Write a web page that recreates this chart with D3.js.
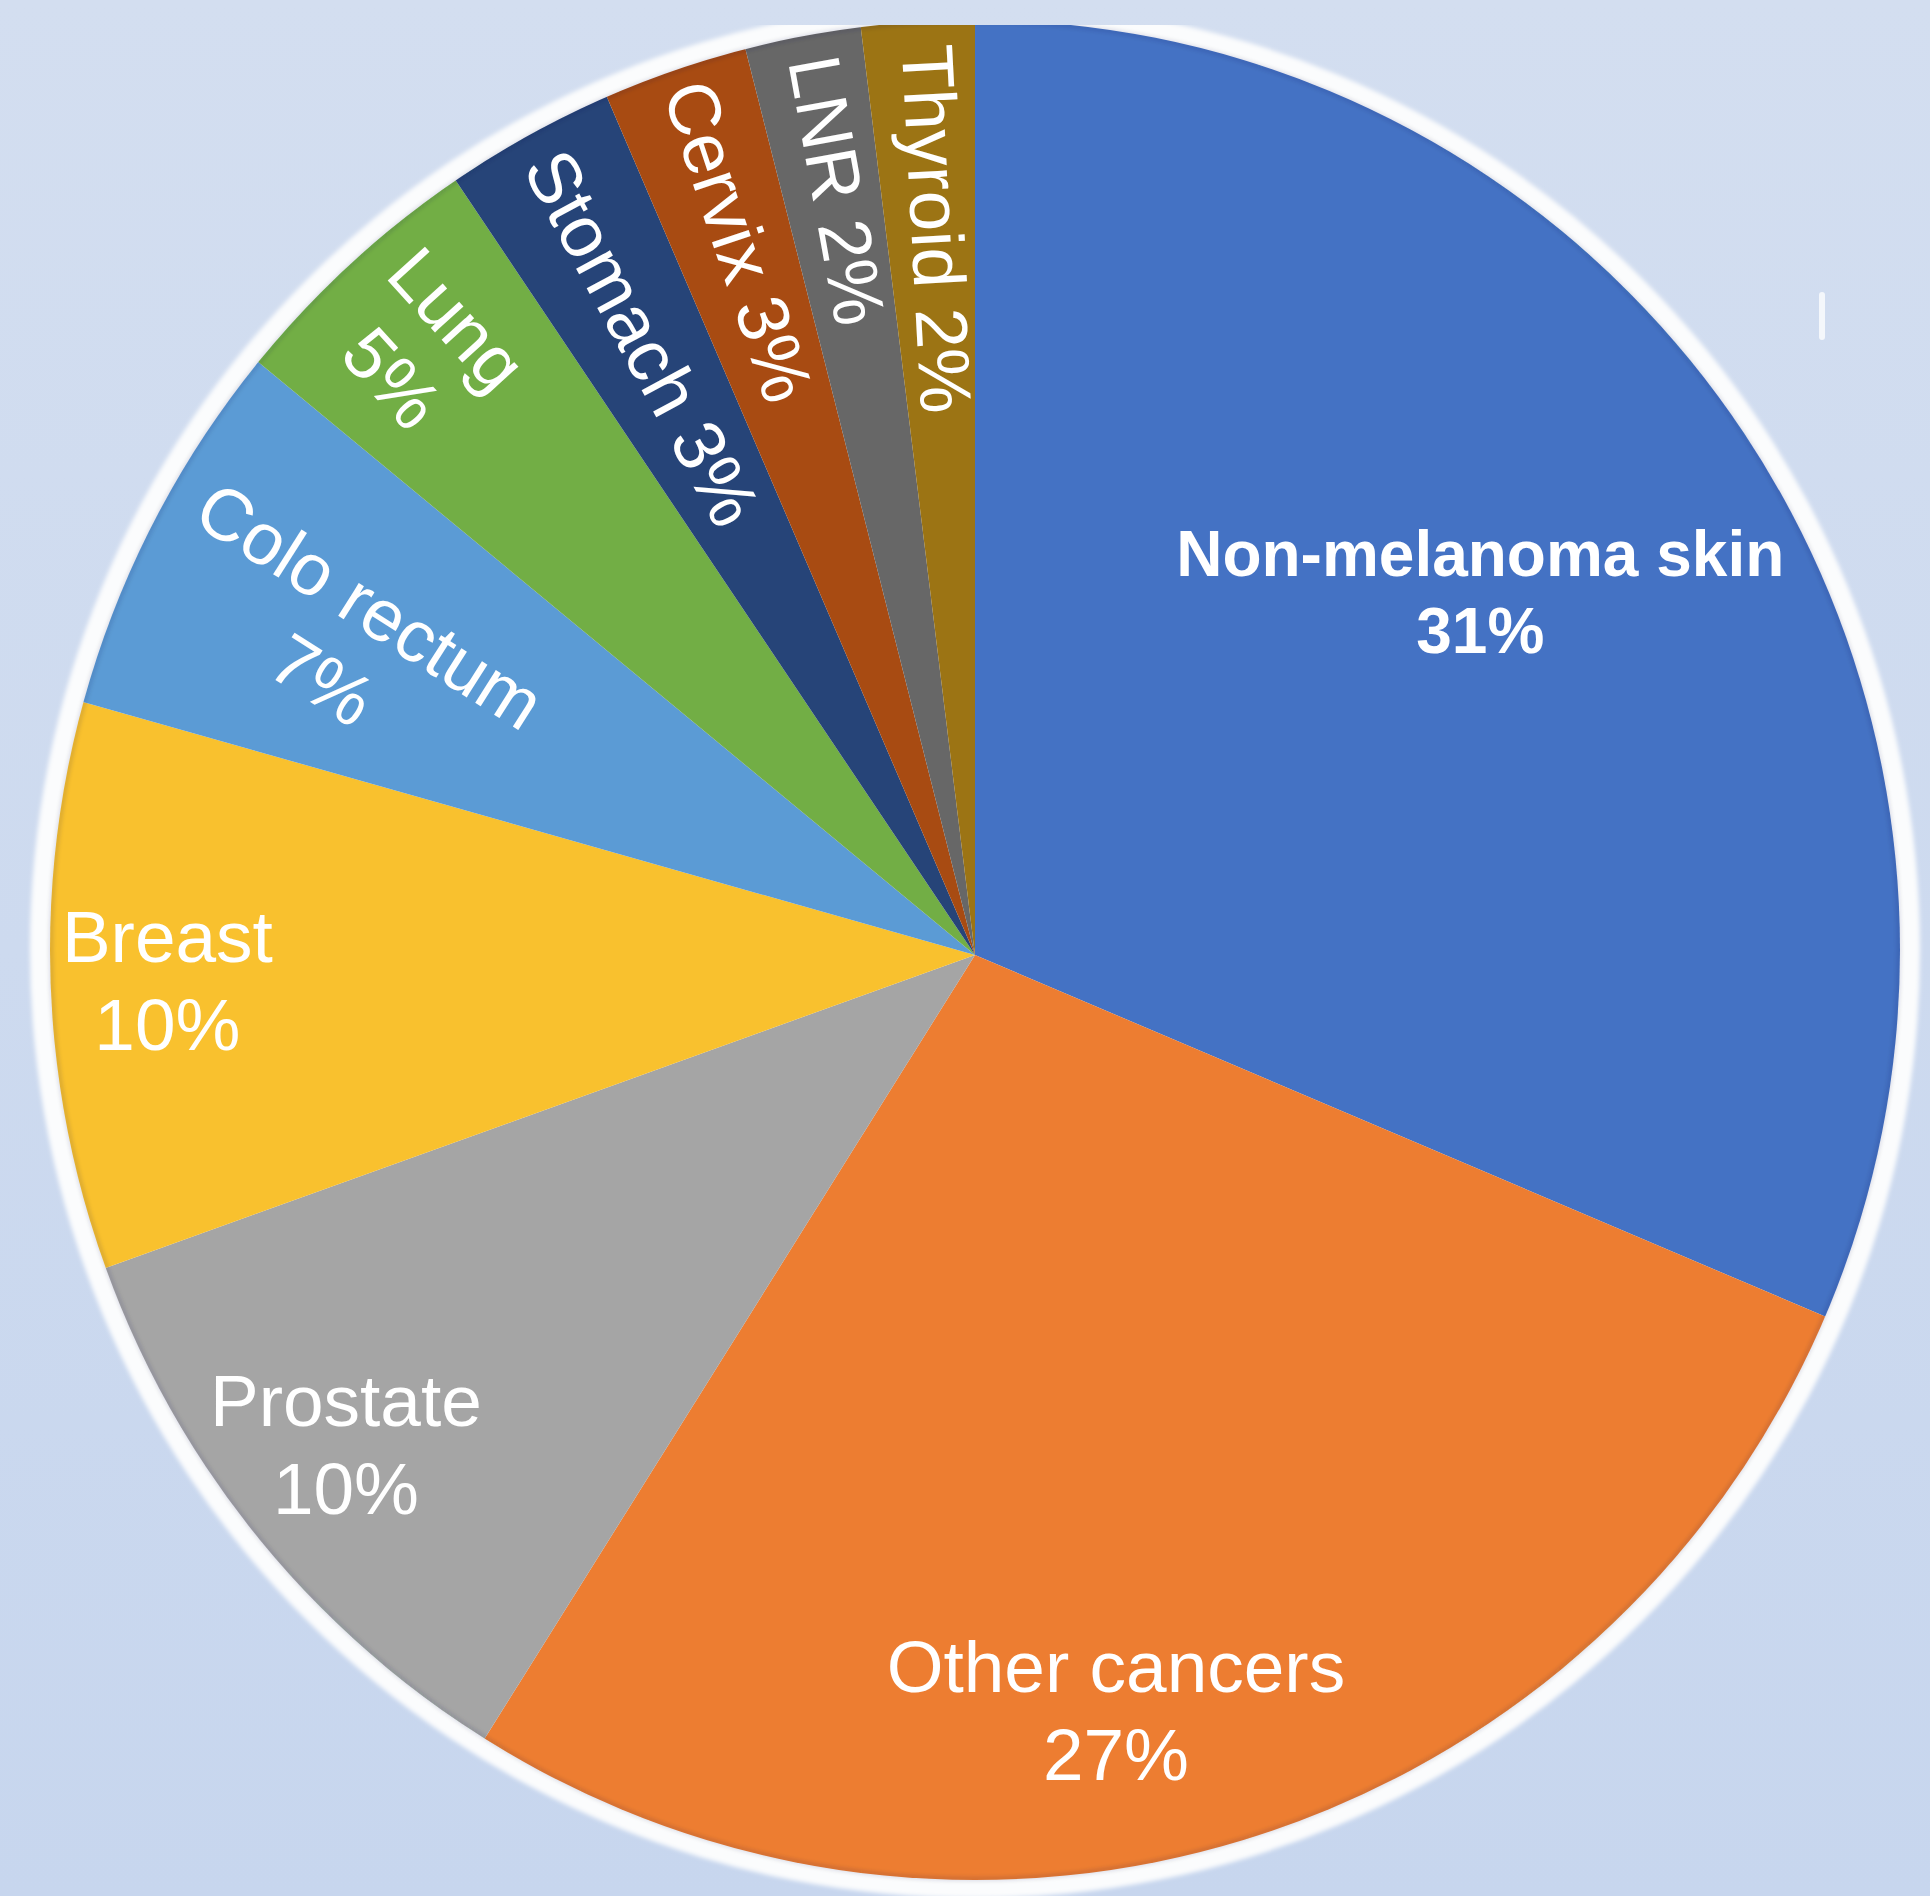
<!DOCTYPE html>
<html>
<head>
<meta charset="utf-8">
<script src="https://cdn.jsdelivr.net/npm/d3@7"></script>
<style>
  html, body { margin: 0; padding: 0; background: #cfdcef; }
  svg { display: block; }
</style>
</head>
<body>
<div id="chart"></div>
<script>
// Data, clockwise from 12 o'clock
const categories = ["Non-melanoma skin", "Other cancers", "Prostate", "Breast", "Colo rectum", "Lung", "Stomach", "Cervix", "LNR", "Thyroid"];
const shares = [31.4, 27.5, 10.6, 9.9, 6.6, 4.6, 2.95, 2.5, 2.0, 1.95];
const pctLabels = ["31%", "27%", "10%", "10%", "7%", "5%", "3%", "3%", "2%", "2%"];
const colors = ["#4472c4", "#ed7d31", "#a5a5a5", "#f9c12e", "#5b9bd5", "#72ae45", "#264478", "#a84b12", "#676767", "#9c7414"];

// Label placement: distance from centre, angle nudge (deg), extra turn for radial text
const labelLayout = [
  {r: 622, nudge: -2.2, radial: false, bold: true},
  {r: 769, nudge: 6.9, radial: false},
  {r: 797, nudge: 1.0, radial: false},
  {r: 808, nudge: 0.2, radial: false},
  {r: 702, nudge: -1.3, radial: true, turn: 6},
  {r: 819, nudge: -0.1, radial: true, turn: 0},
  {r: 701, nudge: 0.2, radial: true, turn: 0, oneLine: true},
  {r: 752, nudge: 0.4, radial: true, turn: 0, oneLine: true},
  {r: 777, nudge: 0.4, radial: true, turn: 0, oneLine: true},
  {r: 727, nudge: 0.5, radial: true, turn: 0, oneLine: true}
];

const width = 1930, height = 1896;
const cx = 975, cy = 955;          // apex of the slices
const ex = 975, ey = 950, rx = 925, ry = 930;  // outline of the pie

const svg = d3.select("#chart")
  .append("svg")
    .attr("width", width)
    .attr("height", height);

const defs = svg.append("defs");

// Background gradient
const grad = defs.append("linearGradient")
    .attr("id", "bg")
    .attr("x1", 0).attr("y1", 0).attr("x2", 0).attr("y2", 1);
grad.append("stop").attr("offset", "0%").attr("stop-color", "#d3def0");
grad.append("stop").attr("offset", "100%").attr("stop-color", "#c7d6ee");

svg.append("rect")
    .attr("width", width)
    .attr("height", height)
    .attr("fill", "url(#bg)");

// The picture is cut off at the top and left
defs.append("clipPath").attr("id", "frame")
  .append("rect")
    .attr("x", 26).attr("y", 25)
    .attr("width", width - 26).attr("height", height - 25);

defs.append("clipPath").attr("id", "oval")
  .append("ellipse")
    .attr("cx", ex).attr("cy", ey)
    .attr("rx", rx).attr("ry", ry);

const blur = defs.append("filter").attr("id", "soft");
blur.append("feGaussianBlur").attr("stdDeviation", 2);

const frame = svg.append("g").attr("clip-path", "url(#frame)");

// White rim round the pie
frame.append("ellipse")
    .attr("cx", ex).attr("cy", ey)
    .attr("rx", rx + 20).attr("ry", ry + 18)
    .attr("fill", "#fbfcfd")
    .attr("filter", "url(#soft)");

const pie = d3.pie()
    .sort(null)
    .value(d => d);

const arcs = pie(shares);

const arc = d3.arc()
    .innerRadius(0)
    .outerRadius(1000);

const slices = frame.append("g")
    .attr("clip-path", "url(#oval)")
  .append("g")
    .attr("transform", `translate(${cx},${cy})`);

slices.selectAll("path")
  .data(arcs)
  .enter()
  .append("path")
    .attr("d", arc)
    .attr("fill", (d, i) => colors[i]);

// faint edge shadow
frame.append("ellipse")
    .attr("cx", ex).attr("cy", ey)
    .attr("rx", rx - 1).attr("ry", ry - 1)
    .attr("fill", "none")
    .attr("stroke", "rgba(30,40,80,0.18)")
    .attr("stroke-width", 3)
    .attr("filter", "url(#soft)");

// Labels
const labels = svg.append("g")
    .attr("transform", `translate(${cx},${cy})`)
    .style("font-family", "'Liberation Sans', Arial, sans-serif")
    .style("fill", "#ffffff");

arcs.forEach(function(d, i) {
  const lay = labelLayout[i];
  const deg = (d.startAngle + d.endAngle) / 2 * 180 / Math.PI + lay.nudge;
  const a = deg * Math.PI / 180;
  const x = lay.r * Math.sin(a), y = -lay.r * Math.cos(a);
  const rot = lay.radial ? deg - 270 + (lay.turn || 0) : 0;
  const size = lay.bold ? 64 : 73;
  const lh = lay.bold ? 77 : 88;

  const g = labels.append("g")
      .attr("transform", `translate(${x},${y}) rotate(${rot})`)
      .style("font-size", size + "px")
      .style("font-weight", lay.bold ? "bold" : "normal");

  const lines = lay.oneLine ? [categories[i] + " " + pctLabels[i]] : [categories[i], pctLabels[i]];
  g.selectAll("text")
    .data(lines)
    .enter()
    .append("text")
      .attr("text-anchor", "middle")
      .attr("dominant-baseline", "central")
      .attr("y", (t, j) => (j - (lines.length - 1) / 2) * lh)
      .text(t => t);
});

// small stray tick at right of the pie
svg.append("rect")
    .attr("x", 1819).attr("y", 292)
    .attr("width", 6).attr("height", 48)
    .attr("rx", 3)
    .attr("fill", "#f4f7fb");
</script>
</body>
</html>
